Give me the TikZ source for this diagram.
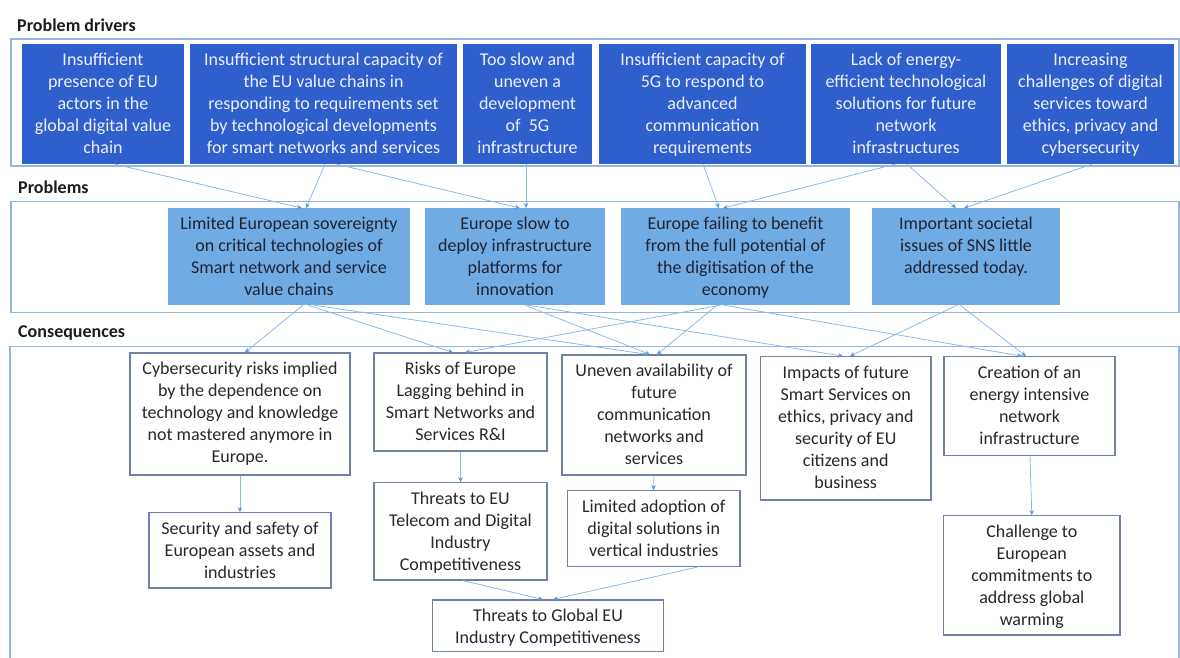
\documentclass[tikz,border=0pt]{standalone}
\usepackage{fontspec}
\setmainfont{Carlito}
\usetikzlibrary{arrows.meta}
\definecolor{dblue}{RGB}{47,94,205}
\definecolor{dtext}{RGB}{236,241,252}
\definecolor{pblue}{RGB}{112,171,228}
\definecolor{ptext}{RGB}{30,36,52}
\definecolor{cborder}{RGB}{112,128,165}
\definecolor{ctext}{RGB}{40,40,44}
\definecolor{lineblue}{RGB}{140,186,232}
\definecolor{arrowblue}{RGB}{88,150,222}
\definecolor{frameblue}{RGB}{150,180,226}
\definecolor{secttext}{RGB}{28,28,32}
\newcommand{\mkbox}[7]{%
  \pgfmathsetmacro{\qqcx}{(#3+#5)/2}%
  \pgfmathsetmacro{\qqcy}{(#4+#6)/2}%
  \pgfmathsetmacro{\qqw}{#5-#3}%
  \pgfmathsetmacro{\qqh}{#6-#4}%
  \node[#1] (#2) at (\qqcx,\qqcy) {\parbox[c][\qqh pt][t]{\qqw pt}{\centering\vspace*{5.9pt}\strut #7}};}
\tikzset{
  boxfont/.style={font=\fontsize{18}{22}\selectfont},
  dbox/.style={boxfont, fill=dblue, draw=none, text=dtext, inner sep=0pt},
  pbox/.style={boxfont, fill=pblue, draw=none, text=ptext, inner sep=0pt},
  cbox/.style={boxfont, fill=white, draw=cborder, line width=1.1pt, text=ctext, inner sep=0pt},
  conn/.style={draw=lineblue, line width=0.8pt, -{Stealth[length=5pt,width=4.5pt,color=arrowblue]}},
  frame/.style={draw=frameblue, line width=1.2pt},
  sect/.style={font=\fontsize{18}{22}\selectfont\bfseries, anchor=base west, inner sep=0pt, text=secttext}
}
\begin{document}
\begin{tikzpicture}[x=1pt,y=-1pt]
\useasboundingbox (0,0) rectangle (1180,657);
% frames
\draw[frame] (11,39) rectangle (1179,166);
\draw[frame] (11,201.7) rectangle (1179,312.7);
\draw[frame] (10,346.7) rectangle (1179,668);
% section labels
\node[sect] (s1) at (17,31) {Problem drivers};
\node[sect] (s2) at (18,193) {Problems};
\node[sect] (s3) at (18,337) {Consequences};
% drivers
\mkbox{dbox}{D1}{22}{44.3}{184}{164}{Insufficient\\presence of EU\\actors in the\\global digital value\\chain}
\mkbox{dbox}{D2}{190}{44.3}{457}{164}{Insufficient structural capacity of\\the EU value chains in\\responding to requirements set\\by technological developments\\for smart networks and services}
\mkbox{dbox}{D3}{463}{44.3}{592}{164}{Too slow and\\uneven a\\development\\of~ 5G\\infrastructure}
\mkbox{dbox}{D4}{599}{44.3}{806}{164}{Insufficient capacity of\\5G to respond to\\advanced\\communication\\requirements}
\mkbox{dbox}{D5}{811}{44.3}{1001}{164}{Lack of energy-\\efficient technological\\solutions for future\\network\\infrastructures}
\mkbox{dbox}{D6}{1007}{44.3}{1174}{164}{Increasing\\challenges of digital\\services toward\\ethics, privacy and\\cybersecurity}
% problems
\mkbox{pbox}{P1}{168}{208.3}{410}{305}{Limited European sovereignty\\on critical technologies of\\Smart network and service\\value chains}
\mkbox{pbox}{P2}{425}{208.3}{605}{305}{Europe slow to\\deploy infrastructure\\platforms for\\innovation}
\mkbox{pbox}{P3}{621}{208.3}{850}{305}{Europe failing to benefit\\from the full potential of\\the digitisation of the\\economy}
\mkbox{pbox}{P4}{872}{208.3}{1060}{305}{Important societal\\issues of SNS little\\addressed today.}
% consequences
\mkbox{cbox}{C1}{130}{353}{350}{475}{Cybersecurity risks implied\\by the dependence on\\technology and knowledge\\not mastered anymore in\\Europe.}
\mkbox{cbox}{C2}{374}{353}{547}{451}{Risks of Europe\\Lagging behind in\\Smart Networks and\\Services R\&I}
\mkbox{cbox}{C3}{562}{355}{746}{475}{Uneven availability of\\future\\communication\\networks and\\services}
\mkbox{cbox}{C4}{760.5}{356.7}{931}{500}{Impacts of future\\Smart Services on\\ethics, privacy and\\security of EU\\citizens and\\business}
\mkbox{cbox}{C5}{944}{356.7}{1115}{455.7}{Creation of an\\energy intensive\\network\\infrastructure}
\mkbox{cbox}{C6}{149}{512.7}{331}{588}{Security and safety of\\European assets and\\industries}
\mkbox{cbox}{C7}{374}{482.7}{547}{580}{Threats to EU\\Telecom and Digital\\Industry\\Competitiveness}
\mkbox{cbox}{C8}{567.5}{490.7}{740}{566.7}{Limited adoption of\\digital solutions in\\vertical industries}
\mkbox{cbox}{C9}{943.6}{515.7}{1120}{635}{Challenge to\\European\\commitments to\\address global\\warming}
\mkbox{cbox}{C10}{432.5}{600}{663.4}{651.7}{Threats to Global EU\\Industry Competitiveness}
% drivers -> problems
\draw[conn] ([xshift=12pt]D1.south) -- ([xshift=13pt]P1.north);
\draw[conn] ([xshift=1.5pt]D2.south) -- ([xshift=17pt]P1.north);
\draw[conn] ([xshift=13.5pt]D2.south) -- ([xshift=5pt]P2.north);
\draw[conn] ([xshift=-1.5pt]D3.south) -- ([xshift=11pt]P2.north);
\draw[conn] ([xshift=0.5pt]D4.south) -- ([xshift=-16.5pt]P3.north);
\draw[conn] ([xshift=-11pt]D5.south) -- ([xshift=-12.5pt]P3.north);
\draw[conn] ([xshift=1pt]D5.south) -- ([xshift=-10pt]P4.north);
\draw[conn] ([xshift=1.5pt]D6.south) -- ([xshift=-2pt]P4.north);
% problems -> consequences
\draw[conn] ([xshift=14pt]P1.south) -- ([xshift=5pt]C1.north);
\draw[conn] ([xshift=19pt]P1.south) -- ([xshift=-7.5pt]C2.north);
\draw[conn] ([xshift=25pt]P1.south) -- ([xshift=-6pt]C3.north);
\draw[conn] ([xshift=-15.5pt]P3.south) -- ([xshift=4.5pt]C2.north);
\draw[conn] ([xshift=10pt]P2.south) -- ([xshift=-4pt]C3.north);
\draw[conn] ([xshift=-18.5pt]P3.south) -- ([xshift=3pt]C3.north);
\draw[conn] ([xshift=13pt]P2.south) -- ([xshift=-2.75pt]C4.north);
\draw[conn] ([xshift=-9pt]P4.south) -- ([xshift=4.25pt]C4.north);
\draw[conn] ([xshift=-11.5pt]P3.south) -- ([xshift=-7.5pt]C5.north);
\draw[conn] ([xshift=-6pt]P4.south) -- ([xshift=-3.5pt]C5.north);
% consequences -> consequences
\draw[conn] (C1.south) -- (C6.north);
\draw[conn] (C2.south) -- (C7.north);
\draw[conn] (C3.south) -- ([xshift=-0.25pt]C8.north);
\draw[conn] ([xshift=0.5pt]C5.south) -- (C9.north);
\draw[conn] ([xshift=2.5pt]C7.south) -- ([xshift=-5pt]C10.north);
\draw[conn] ([xshift=43pt]C8.south) -- ([xshift=5pt]C10.north);
\end{tikzpicture}
\end{document}
